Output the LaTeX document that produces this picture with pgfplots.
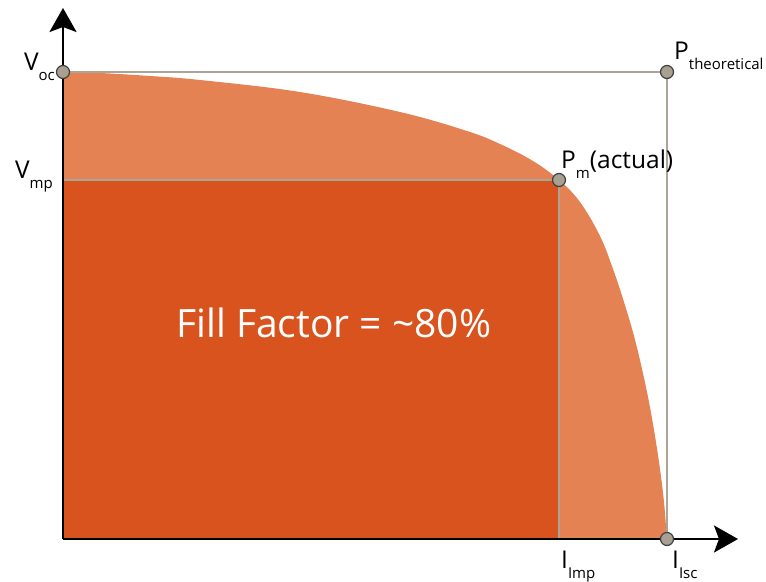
\documentclass[border=0pt]{standalone}
\usepackage{pgfplots}
\pgfplotsset{compat=1.18}
\usepackage{fontspec}
\setmainfont{Open Sans}
\usetikzlibrary{arrows.meta}
\definecolor{ffdark}{RGB}{217,83,30}
\definecolor{fflight}{RGB}{228,130,84}
\definecolor{guide}{RGB}{172,164,150}
\definecolor{dotfill}{RGB}{168,160,145}
\newcommand{\lab}{\fontsize{24.5bp}{26bp}\selectfont}
\newcommand{\sub}[1]{\raisebox{-10bp}{\fontsize{15bp}{16bp}\selectfont #1}}
\begin{document}
\begin{tikzpicture}
\begin{axis}[
  x=1bp, y=1bp,
  xmin=0, xmax=675, ymin=0, ymax=531,
  axis lines=left,
  axis line style={line width=2.5bp, -{Stealth[length=24bp,width=27bp,inset=5bp]}},
  ticks=none,
  clip=false,
  axis on top,
]
% I-V curve area (light) and max power rectangle (dark)
\addplot[fill=fflight, draw=none, smooth, tension=0.6] coordinates {
  (0,467) (37,466) (87,463) (137,459) (237,447) (337,427) (404,408)
  (437,395) (470,378) (496,359) (517,337) (537,303) (550,270) (561,237)
  (571,203) (579,170) (586,137) (592,103) (597,70) (601,37) (603.5,6) (604,0)
} \closedcycle;
\addplot[fill=ffdark, draw=none] coordinates {(0,359) (496,359)} \closedcycle;
% guide lines
\addplot[guide, line width=2bp] coordinates {(0,467) (604,467) (604,0)};
\addplot[guide, line width=2bp] coordinates {(0,359) (496,359) (496,0)};
% points
\addplot[only marks, mark=*, mark size=6.5bp,
  mark options={fill=dotfill, draw=black!75, line width=1.2bp}]
  coordinates {(0,467) (604,467) (496,359) (604,0)};
% labels
\node[anchor=base east, inner sep=0] at (axis cs:-8,468) {\lab V\sub{oc}};
\node[anchor=base east, inner sep=0] at (axis cs:-10,361) {\lab V\sub{mp}};
\node[anchor=base west, inner sep=0] at (axis cs:498,-29) {\lab I\sub{Imp}};
\node[anchor=base west, inner sep=0] at (axis cs:609,-29) {\lab I\sub{Isc}};
\node[anchor=base west, inner sep=0] at (axis cs:611,479) {\lab P\sub{theoretical}};
\node[anchor=base west, inner sep=0] at (axis cs:498,371) {\lab P\sub{m}(actual)};
\node[anchor=base west, inner sep=0, text=white] at (axis cs:113,202)
  {\fontsize{39bp}{42bp}\selectfont Fill Factor = \textasciitilde80\%};
\path (axis cs:-63,-42) rectangle (axis cs:703,539);
\end{axis}
\end{tikzpicture}
\end{document}
